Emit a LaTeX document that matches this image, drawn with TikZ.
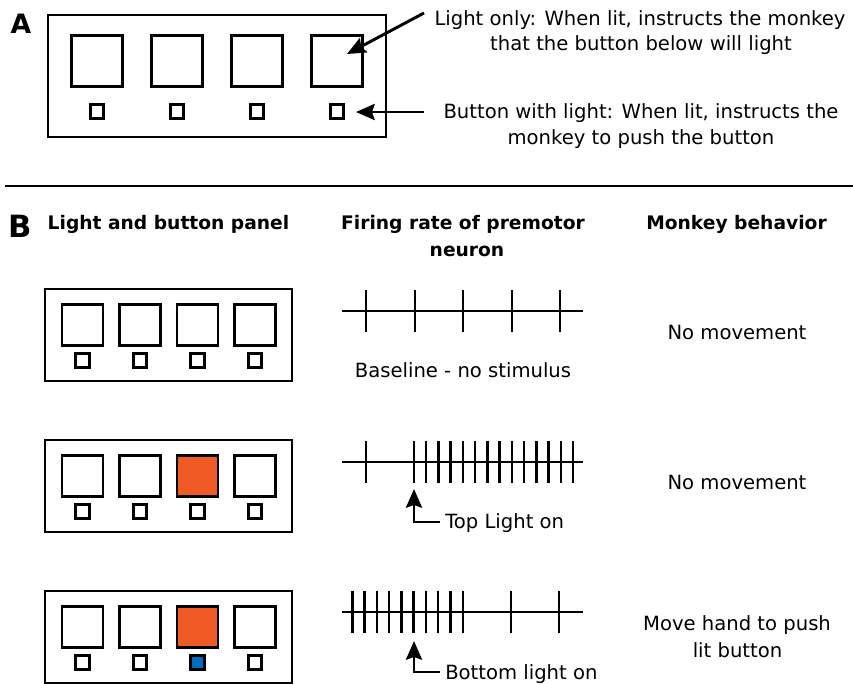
\documentclass[tikz,border=0pt]{standalone}
\usepackage{fontspec}
\setmainfont{DejaVu Sans}
\usetikzlibrary{arrows.meta}
\definecolor{litorange}{RGB}{240,90,36}
\definecolor{litblue}{RGB}{0,108,190}
\begin{document}
\begin{tikzpicture}[x=0.75pt,y=-0.75pt,
  boxline/.style={draw=black,line width=2.2pt,inner sep=0pt},
  panelA/.style={boxline,minimum width=253.5pt,minimum height=91.5pt},
  bigA/.style={boxline,minimum size=38.6pt},
  panelB/.style={boxline,minimum width=185.25pt,minimum height=69pt},
  bigB/.style={boxline,minimum size=30.75pt},
  smallsq/.style={boxline,fill=white,minimum size=10.2pt},
  train/.style={line width=1.8pt},
  arr/.style={line width=2.2pt,-{Stealth[length=14pt,width=12pt,inset=2pt]}},
  txt/.style={inner sep=0pt,font=\fontsize{14.7}{18}\selectfont},
  ttl/.style={inner sep=0pt,font=\fontsize{14}{17}\selectfont\bfseries},
]
\useasboundingbox (0,0) rectangle (853,683);
\fill[white] (0,0) rectangle (853,683);

% ---------- Part A ----------
\node[inner sep=0pt,anchor=base,font=\fontsize{20}{22}\selectfont\bfseries] (labA) at (21,33) {A};
\node[panelA] (pA) at (217,76) {};
\foreach \i/\x in {1/97,2/177,3/257,4/337}{
  \node[bigA] (aL\i) at (\x,61) {};
  \node[smallsq] (aB\i) at (\x,111.5) {};
}
\node[txt,anchor=base] (a1l1) at (640,25) {Light only: When lit, instructs the monkey};
\node[txt,anchor=base] (a1l2) at (641,50) {that the button below will light};
\node[txt,anchor=base] (a2l1) at (641,118) {Button with light: When lit, instructs the};
\node[txt,anchor=base] (a2l2) at (641,144) {monkey to push the button};
\coordinate (a1s) at (424,13);
\coordinate (a1t) at (347,54);
\coordinate (a2s) at (424,112);
\coordinate (a2t) at (356,112);
\draw[arr] (a1s) -- (a1t);
\draw[arr] (a2s) -- (a2t);

% separator
\coordinate (sepL) at (5,186);
\coordinate (sepR) at (853,186);
\draw[line width=1.6pt] (sepL) -- (sepR);

% ---------- Part B ----------
\node[inner sep=0pt,anchor=base,font=\fontsize{23}{25}\selectfont\bfseries] (labB) at (20,237) {B};
\node[ttl,anchor=base] (t1) at (168.5,229) {Light and button panel};
\node[ttl,anchor=base] (t2a) at (463,229) {Firing rate of premotor};
\node[ttl,anchor=base] (t2b) at (467,256) {neuron};
\node[ttl,anchor=base] (t3) at (736.5,229) {Monkey behavior};

\foreach \p/\top in {1/288,2/439,3/590}{
  \node[panelB] (pB\p) at (168.5,\top+47) {};
  \foreach \i/\x in {1/82.5,2/140,3/197.5,4/255}{
    \node[bigB] (b\p L\i) at (\x,\top+37) {};
    \node[smallsq] (b\p B\i) at (\x,\top+72.5) {};
  }
}
\node[bigB,fill=litorange] at (b2L3) {};
\node[bigB,fill=litorange] at (b3L3) {};
\node[smallsq,fill=litblue] at (b3B3) {};

% spike trains
\foreach \k/\y in {1/311,2/462,3/612}{
  \coordinate (s\k a) at (342,\y);
  \coordinate (s\k b) at (583,\y);
  \draw[train] (s\k a) -- (s\k b);
}
\foreach \x in {366,415,463,512,560}{
  \draw[train] (\x,290) -- (\x,332);
}
\draw[train] (366,441) -- (366,483);
\foreach \k in {0,...,13}{
  \draw[train] ({414+12.23*\k},441) -- ({414+12.23*\k},483);
}
\foreach \k in {0,...,9}{
  \draw[train] ({352.3+12.27*\k},591) -- ({352.3+12.27*\k},633);
}
\foreach \x in {510.7,559}{
  \draw[train] (\x,591) -- (\x,633);
}

\node[txt,anchor=base] (base1) at (463,377) {Baseline - no stimulus};
\node[txt,anchor=base west] (top2) at (445,528) {Top Light on};
\node[txt,anchor=base west] (bot3) at (445,679) {Bottom light on};
\coordinate (c2) at (440,522);
\coordinate (tip2) at (414,489);
\coordinate (c3) at (440,672);
\coordinate (tip3) at (414,641);
\draw[arr] (c2) -| (tip2);
\draw[arr] (c3) -| (tip3);

\node[txt,anchor=base] (m1) at (737,339) {No movement};
\node[txt,anchor=base] (m2) at (737,489) {No movement};
\node[txt,anchor=base] (m3a) at (737,630) {Move hand to push};
\node[txt,anchor=base] (m3b) at (737.5,657) {lit button};
\end{tikzpicture}
\end{document}
